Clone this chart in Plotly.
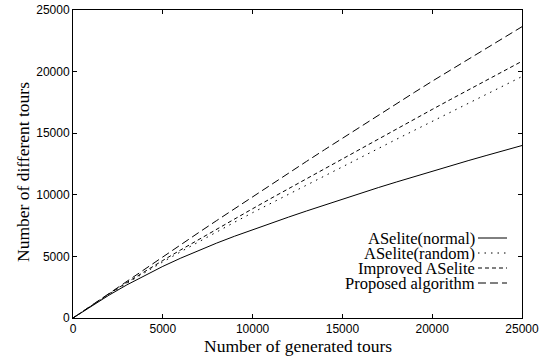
import plotly.graph_objects as go

generated = [0, 1000, 2000, 3000, 4000, 5000, 6000, 7000, 8000, 9000, 10000, 11000, 12000,
             13000, 14000, 15000, 16000, 17000, 18000, 19000, 20000, 21000, 22000, 23000,
             24000, 25000]
aselite_normal = [0, 950, 1850, 2690, 3470, 4190, 4860, 5490, 6080, 6640, 7170, 7685, 8190,
                  8685, 9175, 9655, 10125, 10585, 11035, 11480, 11920, 12350, 12770, 13185,
                  13595, 14000]
aselite_random = [0, 980, 1920, 2820, 3700, 4550, 5380, 6200, 7000, 7780, 8550, 9300, 10050,
                  10800, 11550, 12300, 13050, 13780, 14500, 15230, 15950, 16680, 17400, 18120,
                  18850, 19600]
improved_aselite = [0, 985, 1950, 2880, 3790, 4670, 5530, 6380, 7220, 8050, 8870, 9690, 10500,
                    11310, 12120, 12930, 13740, 14540, 15340, 16140, 16930, 17720, 18500,
                    19280, 20060, 20840]
proposed = [0, 998, 1994, 2988, 3980, 4970, 5955, 6935, 7910, 8880, 9845, 10805, 11760,
            12710, 13655, 14595, 15530, 16460, 17385, 18305, 19220, 20110, 21000, 21885,
            22765, 23645]

series_names = ["ASelite(normal)", "ASelite(random)", "Improved ASelite", "Proposed algorithm"]
series_values = [aselite_normal, aselite_random, improved_aselite, proposed]
dashes = ["solid", "1.5px,5px", "4px,3px", "8px,4px"]
tick_vals = [0, 5000, 10000, 15000, 20000, 25000]
tick_text = ["0", "5000", "10000", "15000", "20000", "25000"]
x_title = "Number of generated tours"
y_title = "Number of different tours"

fig = go.Figure()
for name, vals, dash in zip(series_names, series_values, dashes):
    fig.add_trace(go.Scatter(x=generated, y=vals, mode="lines", name=name,
                             line=dict(color="black", width=1, dash=dash),
                             showlegend=False))

# manual gnuplot-style key: text right-aligned, sample line on the right
row_y = [0.2597, 0.211, 0.1623, 0.1136]
for name, dash, yy in zip(series_names, dashes, row_y):
    fig.add_annotation(x=0.8976, y=yy, xref="paper", yref="paper", text=name,
                       showarrow=False, xanchor="right", yanchor="middle", borderpad=0,
                       font=dict(family="Liberation Serif", size=16.5, color="black"))
    fig.add_shape(type="line", xref="paper", yref="paper", x0=0.902, x1=0.9666,
                  y0=yy, y1=yy, line=dict(color="black", width=1, dash=dash))

# axis titles
fig.add_annotation(x=0.5, y=-0.0909, xref="paper", yref="paper", text=x_title,
                   showarrow=False, xanchor="center", yanchor="middle", borderpad=0,
                   font=dict(family="Liberation Serif", size=17.5, color="black"))
fig.add_annotation(x=-0.1114, y=0.474, xref="paper", yref="paper", text=y_title,
                   showarrow=False, xanchor="center", yanchor="middle", textangle=-90,
                   borderpad=0,
                   font=dict(family="Liberation Serif", size=17.5, color="black"))

axis_common = dict(range=[0, 25000], tickvals=tick_vals, ticktext=tick_text,
                   ticks="inside", ticklen=4, automargin=False,
                   tickcolor="black", showline=True, linecolor="black", linewidth=1,
                   mirror="ticks", showgrid=False, zeroline=False,
                   tickfont=dict(family="Liberation Sans", size=12, color="black"))

fig.update_layout(
    width=552, height=358,
    margin=dict(l=73, r=30, t=10, b=40, autoexpand=False),
    plot_bgcolor="white", paper_bgcolor="white",
    xaxis=dict(**axis_common),
    yaxis=dict(**axis_common),
)

fig.write_html("out.html", config={"displayModeBar": False},
               post_script="document.body.style.margin='0';document.body.style.overflow='hidden';")
